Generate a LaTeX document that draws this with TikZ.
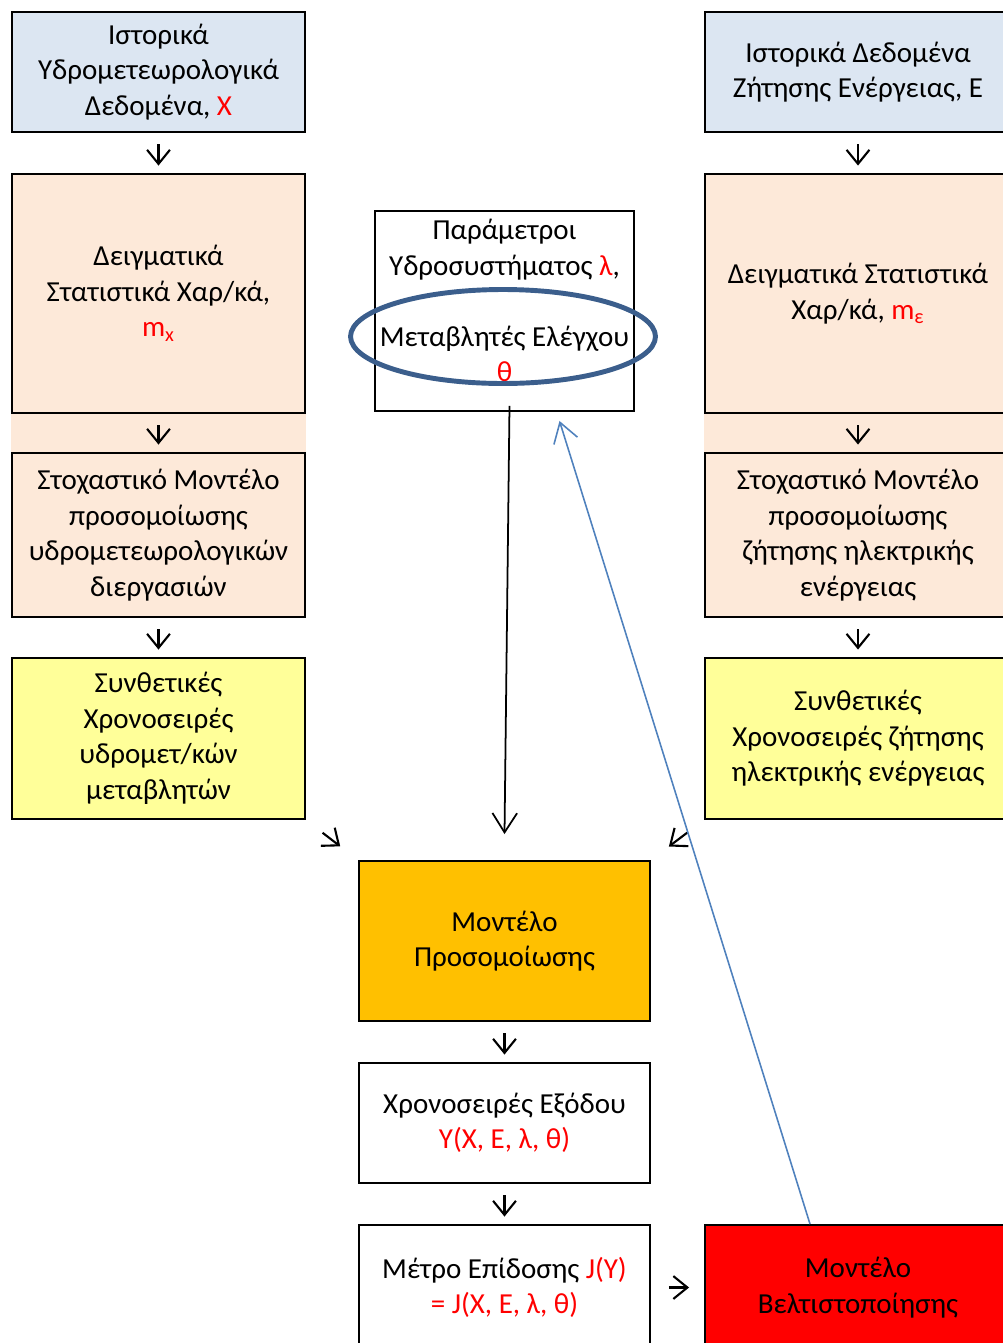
\documentclass[tikz,border=0pt]{standalone}
\usepackage{fontspec}
\setmainfont{Carlito}
\usetikzlibrary{arrows.meta,shapes.geometric,backgrounds}
\definecolor{histblue}{HTML}{DCE6F2}
\definecolor{statpeach}{HTML}{FDE9D9}
\definecolor{synyellow}{HTML}{FFFF99}
\definecolor{simorange}{HTML}{FFC000}
\definecolor{optred}{HTML}{FF0000}
\definecolor{ringblue}{HTML}{3B5E8C}
\definecolor{backblue}{HTML}{4F81BD}
\newcommand{\vr}[1]{\textcolor{red}{#1}}

\begin{document}
\begin{tikzpicture}[
    x=0.02cm, y=-0.02cm,
    box/.style={draw, rectangle, line width=1.1pt, inner sep=0pt, align=center, font=\fontsize{16.5}{20.2}\selectfont},
    side/.style={box, minimum width=5.86cm},
    sider/.style={box, minimum width=6.12cm},
    mid/.style={box, minimum width=5.82cm},
    gap/.style={-{Straight Barb[length=8pt,width=13pt]}, line width=1.2pt, shorten <=0.23cm, shorten >=0.15cm},
    arrow/.style={-{Straight Barb[length=11pt,width=14pt]}, line width=1pt},
]
\useasboundingbox (0,0) rectangle (1003,1343);

% Hidrometeorologia
\node[side, fill=histblue, minimum height=2.4cm] (histx) at (158.5,72) {Ιστορικά\\Υδρομετεωρολογικά\\Δεδομένα, \vr{X}};
\node[side, fill=statpeach, minimum height=4.78cm] (statx) at (158.5,293.5) {Δειγματικά\\Στατιστικά Χαρ/κά,\\\vr{m\textsubscript{x}}};
\node[side, fill=statpeach, minimum height=3.28cm] (stochx) at (158.5,535) {Στοχαστικό Μοντέλο\\προσομοίωσης\\υδρομετεωρολογικών\\διεργασιών};
\node[side, fill=synyellow, minimum height=3.22cm] (synx) at (158.5,738.5) {Συνθετικές\\Χρονοσειρές\\υδρομετ/κών\\μεταβλητών};

% Demanda de energia
\node[sider, fill=histblue, minimum height=2.4cm] (histe) at (858,72) {Ιστορικά Δεδομένα\\Ζήτησης Ενέργειας, Ε};
\node[sider, fill=statpeach, minimum height=4.78cm] (state) at (858,293.5) {Δειγματικά Στατιστικά\\Χαρ/κά, \vr{m\textsubscript{ε}}};
\node[sider, fill=statpeach, minimum height=3.28cm] (stoche) at (858,535) {Στοχαστικό Μοντέλο\\προσομοίωσης\\ζήτησης ηλεκτρικής\\ενέργειας};
\node[sider, fill=synyellow, minimum height=3.22cm] (syne) at (858,738.5) {Συνθετικές\\Χρονοσειρές ζήτησης\\ηλεκτρικής ενέργειας};

% Parâmetros
\node[box, minimum width=5.18cm, minimum height=4cm] (params) at (504.5,311) {Παράμετροι\\Υδροσυστήματος \vr{λ},\\\mbox{}\\Μεταβλητές Ελέγχου\\\vr{θ}\\[-3mm]\mbox{}};
\node[draw=ringblue, line width=2.8pt, ellipse, inner sep=0pt, minimum width=6.1cm, minimum height=1.88cm] (sel) at (503,336.5) {};

% Simulação e otimização
\node[mid, fill=simorange, minimum height=3.2cm] (sim) at (504.5,941) {Μοντέλο\\Προσομοίωσης};
\node[mid, minimum height=2.4cm] (out) at (504.5,1123) {Χρονοσειρές Εξόδου\\\vr{Y(X, E, λ, θ)}};
\node[mid, minimum height=2.5cm] (perf) at (504.5,1287.5) {Μέτρο Επίδοσης \vr{J(Y)}\\\vr{= J(X, E, λ, θ)}};
\node[sider, fill=optred, minimum height=2.5cm] (opt) at (858,1287.5) {Μοντέλο\\Βελτιστοποίησης};

\begin{scope}[on background layer]
\fill[statpeach] (statx.north west) rectangle (stochx.south east);
\fill[statpeach] (state.north west) rectangle (stoche.south east);
\end{scope}

% Conexões
\draw[gap] (histx) -- (statx);
\draw[gap] (statx) -- (stochx);
\draw[gap] (stochx) -- (synx);
\draw[gap] (histe) -- (state);
\draw[gap] (state) -- (stoche);
\draw[gap] (stoche) -- (syne);
\draw[gap, shorten <=0.42cm, shorten >=0.45cm] (synx.south east) -- (sim.north west);
\draw[gap, shorten <=0.42cm, shorten >=0.45cm] (syne.south west) -- (sim.north east);
\draw[gap] (sim) -- (out);
\draw[gap] (out) -- (perf);
\draw[gap, shorten <=0.36cm, shorten >=0.3cm] (perf) -- (opt);
\draw[arrow] ([xshift=0.1cm, yshift=0.12cm]params.south) -- ([yshift=0.52cm]sim.north);
\draw[arrow, backblue, line width=0.9pt] ([xshift=-0.96cm]opt.north) -- ([xshift=1.1cm, yshift=-0.18cm]params.south);
\end{tikzpicture}
\end{document}
